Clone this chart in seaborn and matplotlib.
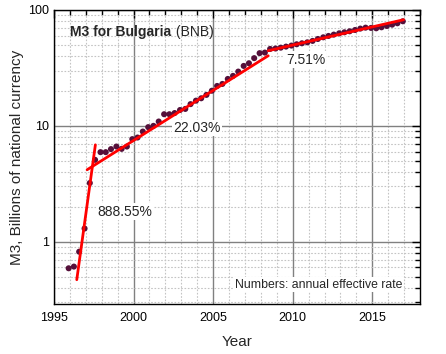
import numpy as np
import pandas as pd
import matplotlib
matplotlib.use("Agg")
import matplotlib.pyplot as plt
import seaborn as sns
from matplotlib.ticker import MultipleLocator, LogLocator, FuncFormatter, NullFormatter

# ---- data ----
years = [1995.92, 1996.25, 1996.58, 1996.92, 1997.25, 1997.58, 1997.92, 1998.25,
         1998.58, 1998.92, 1999.25, 1999.58, 1999.92, 2000.25, 2000.58, 2000.92,
         2001.25, 2001.58, 2001.92, 2002.25, 2002.58, 2002.92, 2003.25, 2003.58,
         2003.92, 2004.25, 2004.58, 2004.92, 2005.25, 2005.58, 2005.92, 2006.25,
         2006.58, 2006.92, 2007.25, 2007.58, 2007.92, 2008.25, 2008.58, 2008.92,
         2009.25, 2009.58, 2009.92, 2010.25, 2010.58, 2010.92, 2011.25, 2011.58,
         2011.92, 2012.25, 2012.58, 2012.92, 2013.25, 2013.58, 2013.92, 2014.25,
         2014.58, 2014.92, 2015.25, 2015.58, 2015.92, 2016.25, 2016.58, 2016.92]
m3 = [0.59, 0.61, 0.82, 1.30, 3.21, 5.09, 5.93, 5.93,
      6.30, 6.63, 6.33, 6.63, 7.68, 7.93, 8.93, 9.75,
      10.0, 10.9, 12.6, 12.6, 12.9, 13.7, 14.0, 15.4,
      16.5, 17.3, 18.5, 20.1, 22.1, 23.0, 25.4, 27.0,
      29.4, 32.9, 34.7, 38.4, 42.4, 42.9, 46.1, 46.5,
      47.3, 48.3, 49.3, 50.6, 51.6, 52.6, 54.1, 56.2,
      58.1, 59.7, 61.3, 62.9, 64.2, 65.5, 67.2, 69.1,
      70.4, 70.0, 69.5, 70.9, 72.8, 74.7, 76.8, 79.9]

# fitted exponential segments
seg_start = [1996.43, 1997.08, 2008.46]
seg_end = [1997.60, 2008.46, 2016.97]
seg_v0 = [0.47, 4.18, 44.5]
seg_rate = [888.55, 22.03, 7.51]   # annual effective rate, %

x_ticks = [1995, 2000, 2005, 2010, 2015]
y_ticks = [1, 10, 100]

# ---- build tables ----
pts = pd.DataFrame({"Year": years, "M3": m3})
rows = []
for i, (s, e, v0, r) in enumerate(zip(seg_start, seg_end, seg_v0, seg_rate)):
    for t in (s, e):
        rows.append({"seg": i, "Year": t, "M3": v0 * (1 + r / 100.0) ** (t - s)})
fit = pd.DataFrame(rows)

# ---- figure ----
sns.set_style("white")
plt.rcParams["font.family"] = ["Liberation Sans", "DejaVu Sans"]

fig = plt.figure(figsize=(4.46, 3.54), dpi=100)
ax = fig.add_axes([0.1211, 0.1412, 0.8206, 0.8306])

ax.set_yscale("log")
ax.set_xlim(1995, 2018)
ax.set_ylim(0.29, 100)

sns.scatterplot(data=pts, x="Year", y="M3", ax=ax, color="#55103a", s=19,
                marker="o", edgecolor="none", zorder=3)
sns.lineplot(data=fit, x="Year", y="M3", units="seg", estimator=None, ax=ax,
             color="#ff0000", lw=2.0, zorder=4)

# grid
ax.set_axisbelow(True)
ax.xaxis.set_major_locator(MultipleLocator(5))
ax.xaxis.set_minor_locator(MultipleLocator(1))
ax.yaxis.set_major_locator(LogLocator(base=10))
ax.yaxis.set_minor_locator(LogLocator(base=10, subs=np.arange(2, 10)))
ax.yaxis.set_major_formatter(FuncFormatter(lambda v, p: f"{v:g}"))
ax.yaxis.set_minor_formatter(NullFormatter())
ax.set_xticks(x_ticks)
ax.set_xticklabels([str(t) for t in x_ticks])
ax.grid(which="major", color="#808080", lw=1.0, ls="-")
ax.grid(which="minor", color="#c4c4c4", lw=0.8, ls=(0, (1.5, 1.5)))

ax.tick_params(which="both", direction="in", top=True, right=True,
               colors="black", labelsize=9)
ax.tick_params(axis="x", which="major", pad=6)
ax.tick_params(which="major", length=6, width=1)
ax.tick_params(which="minor", length=3.5, width=1)
for sp in ax.spines.values():
    sp.set_color("black")
    sp.set_linewidth(1.0)
    sp.set_visible(True)

ax.set_xlabel("Year", fontsize=11, labelpad=8)
ax.set_ylabel("M3, Billions of national currency", fontsize=11, labelpad=3)

# annotations
box = dict(facecolor="white", edgecolor="none", pad=1.0)
ax.text(1997.73, 1.81, f"{seg_rate[0]:.2f}%", fontsize=10, ha="left", va="center", bbox=box, zorder=5)
ax.text(2002.52, 9.6, f"{seg_rate[1]:.2f}%", fontsize=10, ha="left", va="center", bbox=box, zorder=5)
ax.text(2009.57, 37.1, f"{seg_rate[2]:.2f}%", fontsize=10, ha="left", va="center", bbox=box, zorder=5)
ax.text(2006.36, 0.426, "Numbers: annual effective rate", fontsize=8.8, ha="left", va="center",
        bbox=box, zorder=5)

t1 = ax.text(1996.03, 64.5, "M3 for Bulgaria", fontsize=10, fontweight="bold",
             ha="left", va="center", zorder=5)
ax.annotate(" (BNB)", xy=(1, 0), xycoords=t1, fontsize=10, ha="left", va="bottom", zorder=5)

if ax.get_legend() is not None:
    ax.get_legend().remove()
fig.savefig("out.png", dpi=100)
